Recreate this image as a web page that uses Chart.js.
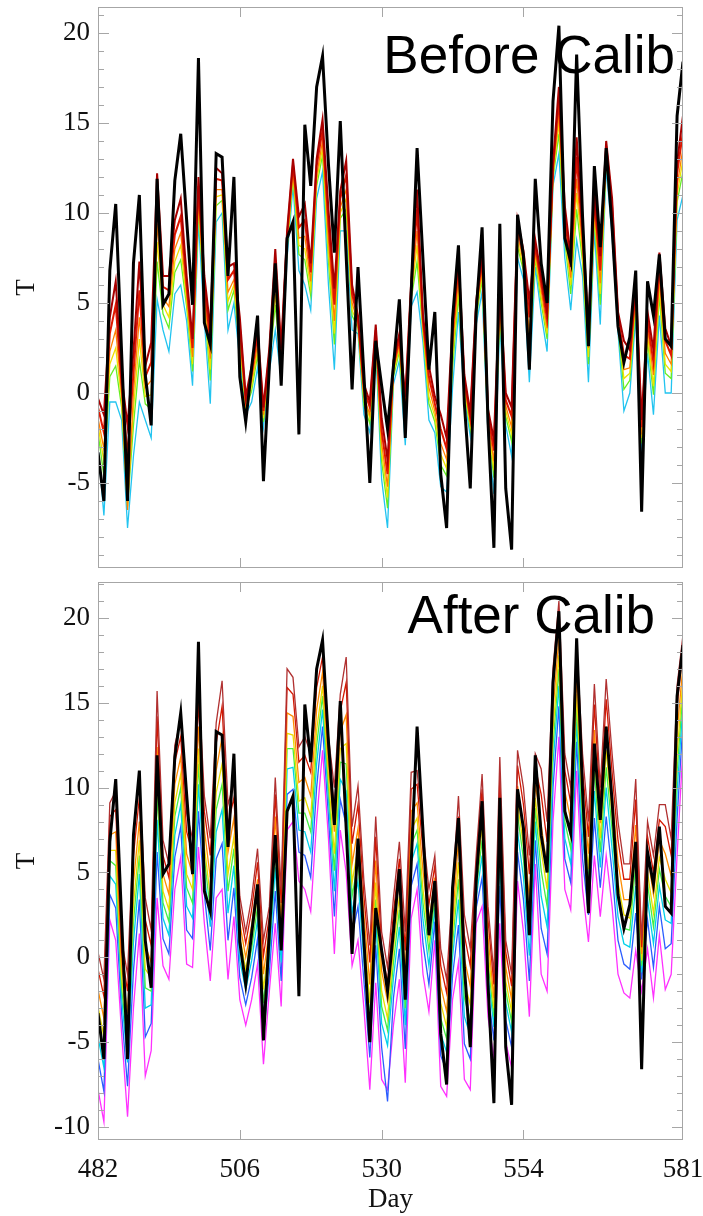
<!DOCTYPE html>
<html>
<head>
<meta charset="utf-8">
<title>Before / After Calib</title>
<script src="https://cdn.jsdelivr.net/npm/chart.js@4.4.1/dist/chart.umd.min.js"></script>
<style>
  html, body { margin: 0; padding: 0; background: #fff; }
  #wrap { position: relative; width: 703px; height: 1216px; overflow: hidden; }
  canvas { position: absolute; left: 0; }
  #c1 { top: 0; }
  #c2 { top: 575px; }
  .tag { position: absolute; font-family: "Liberation Sans", Arial, sans-serif; font-size: 53px; line-height: 53px; color: #000; white-space: nowrap; z-index: 2; }
  #tag1 { right: 28px; top: 28px; }
  #tag2 { right: 48px; top: 588px; }
</style>
</head>
<body>
<div id="wrap">
  <canvas id="c1" width="703" height="575"></canvas>
  <canvas id="c2" width="703" height="641"></canvas>
  <div class="tag" id="tag1">Before Calib</div>
  <div class="tag" id="tag2">After Calib</div>
</div>
<script>
// days 482..581, one value per day
const days = Array.from({ length: 100 }, (_, i) => 482 + i);
const xTicks = [482, 506, 530, 554, 581];
const yTicksTop = [-5, 0, 5, 10, 15, 20];
const yTicksBottom = [-10, -5, 0, 5, 10, 15, 20];

// observed temperature (thick black, same in both panels)
const obs = [-3.3,-6.0,6.8,10.5,2.2,-6.0,7.2,11.0,1.0,-1.8,
  11.9,4.9,5.5,11.8,14.4,9.6,4.9,18.6,3.9,2.7,
  13.3,13.1,6.5,12.0,0.9,-1.6,1.4,4.3,-4.9,1.5,
  7.2,0.4,8.6,9.5,-2.3,14.9,11.5,17.0,18.7,12.7,
  7.8,15.1,7.6,0.2,7.0,1.0,-5.0,2.9,0.4,-2.0,
  1.5,5.2,-2.5,5.5,13.6,7.4,1.3,4.5,-4.5,-7.5,
  4.1,8.2,-0.6,-5.3,4.5,9.2,-1.6,-8.6,9.4,-5.3,
  -8.7,9.9,7.6,1.3,11.9,7.2,5.0,16.2,20.4,8.6,
  7.3,18.8,9.8,2.6,12.6,8.1,13.6,9.2,3.7,1.7,
  3.1,6.8,-6.6,6.2,4.3,7.7,3.0,2.6,15.4,18.4];

// ensemble before calibration
const topDarkRed = [-0.3,-1.2,4.2,6.2,0.9,-1.8,2.3,7.3,1.5,2.8,
  12.2,6.5,6.5,9.6,10.8,6.5,3.0,12.0,6.5,3.6,
  12.5,12.2,7.0,7.2,4.2,-0.2,1.5,3.6,-0.8,2.5,
  8.0,2.5,9.0,13.0,9.8,10.5,7.2,13.0,15.2,10.2,
  5.8,11.2,12.9,6.0,4.3,0.5,-0.5,3.8,-1.4,-3.7,
  1.8,3.3,-0.2,6.2,11.3,4.3,1.5,-0.2,-1.2,-2.5,
  4.0,7.6,1.0,-1.1,5.1,7.8,-0.9,-2.6,6.0,0.0,
  -0.8,9.6,7.9,5.1,8.5,6.5,4.5,12.8,17.0,10.4,
  7.6,14.2,9.2,3.8,11.2,7.6,14.0,10.8,4.5,2.9,
  2.4,6.2,-1.5,4.5,2.4,7.8,3.6,2.6,12.8,15.4];
const topRed = [-0.8,-2.2,3.3,4.9,0.4,-3.5,1.1,5.7,0.9,1.7,
  10.8,5.9,5.7,8.8,9.8,6.0,2.5,11.5,6.0,2.8,
  11.9,11.8,6.3,6.8,3.7,-0.4,1.1,3.2,-1.0,2.2,
  7.1,2.2,8.7,12.7,9.2,9.6,6.7,12.6,14.6,9.4,
  4.9,10.8,12.1,5.5,4.1,0.2,-0.8,3.5,-2.1,-4.5,
  1.5,3.0,-0.7,5.9,10.2,4.0,0.9,-0.6,-2.0,-3.1,
  3.3,7.0,0.7,-1.4,4.8,7.4,-1.2,-3.2,5.6,-0.4,
  -1.3,9.2,7.6,4.2,8.2,6.1,4.1,12.5,16.3,9.8,
  7.0,13.1,8.7,3.2,10.8,6.8,13.7,10.4,4.3,2.1,
  1.9,5.8,-1.9,4.0,1.7,7.1,2.9,2.1,12.2,14.5];
const topOrange = [-1.4,-3.1,2.3,3.5,0.0,-6.5,0.0,4.2,0.3,0.7,
  9.4,5.3,4.8,8.0,8.9,5.5,2.0,11.0,5.5,1.9,
  11.3,11.3,5.6,6.3,3.2,-0.6,0.7,2.7,-1.2,2.0,
  6.2,1.8,8.4,12.4,8.6,8.7,6.2,12.1,14.0,8.5,
  4.0,10.3,11.3,5.0,3.9,-0.2,-1.2,3.3,-2.8,-5.2,
  1.3,2.7,-1.3,5.6,9.0,3.7,0.3,-1.0,-2.8,-3.7,
  2.5,6.4,0.5,-1.6,4.6,6.9,-1.5,-3.8,5.1,-0.7,
  -1.9,8.8,7.3,3.3,7.9,5.7,3.6,12.3,15.5,9.2,
  6.4,11.9,8.1,2.5,10.3,6.1,13.4,10.0,4.1,1.3,
  1.4,5.4,-2.3,3.6,1.0,6.4,2.2,1.6,11.5,13.6];
const topYellow = [-1.8,-3.8,1.6,2.5,-0.4,-6.0,-0.9,3.0,-0.2,-0.1,
  8.4,4.9,4.2,7.3,8.2,5.1,1.6,10.6,5.1,1.3,
  10.9,11.0,5.1,6.0,2.9,-0.8,0.4,2.4,-1.4,1.8,
  5.5,1.6,8.2,12.2,8.2,8.0,5.8,11.8,13.6,7.9,
  3.3,10.0,10.8,4.6,3.8,-0.4,-1.4,3.1,-3.3,-5.8,
  1.1,2.5,-1.7,5.4,8.2,3.5,-0.2,-1.3,-3.4,-4.2,
  2.0,5.9,0.3,-1.8,4.4,6.6,-1.7,-4.3,4.8,-1.0,
  -2.3,8.4,7.0,2.6,7.7,5.3,3.3,12.1,15.0,8.8,
  6.0,11.1,7.7,2.0,10.0,5.5,13.2,9.6,3.9,0.8,
  1.1,5.1,-2.5,3.2,0.4,5.9,1.6,1.2,11.0,13.0];
const topGreen = [-2.2,-4.6,0.9,1.5,-0.8,-6.3,-1.8,1.8,-0.6,-0.9,
  7.3,4.4,3.6,6.7,7.4,4.8,1.2,10.3,4.8,0.7,
  10.4,10.7,4.6,5.7,2.5,-0.9,0.1,2.1,-1.6,1.6,
  4.9,1.3,8.0,12.0,7.7,7.4,5.4,11.5,13.2,7.3,
  2.7,9.7,10.2,4.3,3.6,-0.7,-1.7,2.9,-3.8,-6.4,
  0.9,2.3,-2.1,5.2,7.3,3.3,-0.6,-1.6,-4.0,-4.6,
  1.4,5.4,0.1,-2.0,4.2,6.3,-1.9,-4.7,4.5,-1.3,
  -2.7,8.1,6.8,2.0,7.5,5.0,3.0,11.9,14.4,8.4,
  5.5,10.2,7.3,1.6,9.7,4.9,13.0,9.3,3.7,0.2,
  0.7,4.8,-2.8,2.9,-0.1,5.4,1.1,0.8,10.6,12.3];
const topCyan = [-3.0,-6.8,-0.5,-0.5,-1.5,-7.5,-3.5,-0.5,-1.5,-2.5,
  5.2,3.5,2.3,5.5,6.0,4.0,0.4,9.5,4.0,-0.6,
  9.5,10.0,3.5,5.0,1.8,-1.2,-0.5,1.4,-1.9,1.2,
  3.5,0.8,7.5,11.5,6.8,6.0,4.6,10.8,12.3,6.0,
  1.3,9.0,9.0,3.5,3.3,-1.2,-2.2,2.5,-4.8,-7.5,
  0.5,1.8,-2.9,4.8,5.6,2.8,-1.5,-2.2,-5.2,-5.5,
  0.3,4.5,-0.3,-2.4,3.8,5.6,-2.3,-5.6,3.8,-1.8,
  -3.5,7.5,6.3,0.6,7.0,4.4,2.3,11.5,13.3,7.5,
  4.6,8.5,6.5,0.6,9.0,3.8,12.5,8.7,3.4,-1.0,
  0.0,4.2,-3.4,2.2,-1.2,4.3,0.0,0.0,9.6,11.0];

// ensemble after calibration
const botDarkRed = [0.3,-1.3,9.1,9.8,1.0,-1.0,7.2,10.5,3.5,1.6,
  15.7,6.9,5.5,12.5,14.0,8.5,7.0,16.2,9.5,7.0,
  13.8,16.3,9.0,10.3,3.6,1.5,3.5,6.4,1.0,3.0,
  10.6,4.0,17.0,16.5,12.4,13.0,12.0,17.0,18.5,13.0,
  10.0,15.5,17.7,7.7,10.1,4.5,0.7,8.3,1.5,-0.6,
  3.5,6.8,1.5,10.9,11.0,7.3,4.0,6.0,0.5,-1.3,
  4.0,9.5,2.5,0.5,6.0,10.8,3.0,-1.0,11.8,1.0,
  -1.0,12.2,10.0,6.0,12.0,11.1,8.0,17.0,21.0,12.0,
  10.0,18.5,12.0,8.0,16.1,10.0,16.4,12.0,8.0,5.5,
  5.5,10.5,1.0,8.0,6.0,9.0,9.0,7.0,16.0,19.0];
const botRed = [-0.7,-2.3,8.3,8.7,0.3,-2.0,6.0,9.4,2.2,0.7,
  14.2,6.0,4.7,11.5,13.0,7.4,6.1,15.0,8.6,6.0,
  12.6,14.8,7.8,9.4,2.9,0.8,2.8,5.6,0.1,2.4,
  9.6,3.2,15.9,15.5,11.5,11.9,10.9,15.9,17.7,12.3,
  8.8,14.5,16.2,6.7,9.0,3.6,-0.3,7.1,0.5,-1.5,
  2.6,5.8,0.4,9.9,10.2,6.3,3.1,5.4,-0.5,-2.1,
  3.2,8.3,1.3,-0.5,5.5,9.9,2.2,-1.6,10.6,0.3,
  -1.7,11.3,9.0,4.9,11.2,9.6,6.8,15.9,20.0,11.0,
  9.1,17.6,11.0,7.1,14.9,9.1,15.2,10.9,6.9,4.6,
  4.6,9.3,0.6,7.1,5.0,8.1,7.7,6.0,14.8,18.2];
const botOrange = [-1.9,-3.6,7.2,7.4,-0.5,-3.3,4.4,8.0,0.7,-0.3,
  12.4,4.9,3.7,10.2,11.8,6.1,4.9,13.6,7.5,4.7,
  11.0,13.0,6.2,8.2,2.0,0.0,1.9,4.6,-1.0,1.7,
  8.3,2.1,14.4,14.2,10.3,10.6,9.5,14.6,16.8,11.4,
  7.4,13.3,14.3,5.5,7.6,2.5,-1.6,5.7,-0.8,-2.6,
  1.5,4.6,-0.9,8.6,9.1,5.1,2.1,4.7,-1.7,-3.2,
  2.2,6.9,-0.1,-1.7,4.9,8.7,1.2,-2.4,9.2,-0.6,
  -2.5,10.1,7.7,3.4,10.2,7.8,5.3,14.6,18.8,9.8,
  8.1,16.5,9.8,6.1,13.4,7.9,13.6,9.6,5.6,3.4,
  3.4,7.8,0.2,6.0,3.7,6.9,6.1,4.8,13.3,17.2];
const botYellow = [-2.9,-4.7,6.3,6.3,-1.2,-4.4,3.1,6.9,-0.7,-1.2,
  10.8,3.9,2.8,9.1,10.8,4.9,4.0,12.3,6.5,3.6,
  9.7,11.4,4.9,7.1,1.2,-0.7,1.1,3.7,-1.9,1.0,
  7.2,1.2,13.2,13.1,9.2,9.4,8.3,13.4,16.0,10.6,
  6.1,12.3,12.6,4.4,6.5,1.5,-2.7,4.4,-2.0,-3.6,
  0.5,3.6,-2.1,7.5,8.2,4.0,1.1,4.0,-2.7,-4.1,
  1.4,5.6,-1.4,-2.8,4.4,7.7,0.4,-3.0,7.9,-1.4,
  -3.2,9.1,6.6,2.2,9.4,6.3,4.0,13.4,17.8,8.8,
  7.1,15.5,8.8,5.2,12.1,7.0,12.2,8.4,4.4,2.5,
  2.3,6.5,-0.2,5.0,2.6,5.9,4.6,3.8,12.0,16.4];
const botGreen = [-3.8,-5.5,5.7,5.4,-1.8,-5.2,2.1,6.0,-1.8,-2.0,
  9.6,3.2,2.1,8.3,10.0,4.1,3.2,11.4,5.8,2.8,
  8.7,10.2,3.9,6.4,0.6,-1.3,0.5,3.0,-2.7,0.5,
  6.3,0.6,12.3,12.3,8.5,8.5,7.4,12.5,15.4,10.0,
  5.1,11.5,11.4,3.6,5.6,0.8,-3.6,3.4,-2.9,-4.3,
  -0.3,2.8,-3.0,6.6,7.5,3.2,0.4,3.5,-3.6,-4.8,
  0.8,4.6,-2.4,-3.7,4.0,6.9,-0.3,-3.5,6.9,-2.0,
  -3.8,8.4,5.8,1.3,8.8,5.1,3.0,12.5,17.0,8.0,
  6.4,14.8,8.0,4.5,11.1,6.2,11.2,7.5,3.5,1.7,
  1.6,5.5,-0.5,4.3,1.8,5.2,3.6,3.0,11.0,15.7];
const botCyan = [-4.7,-6.5,4.8,4.3,-2.4,-6.2,0.9,4.9,-3.0,-2.8,
  8.1,2.3,1.3,7.2,9.0,3.0,2.3,10.2,4.9,1.8,
  7.4,8.7,2.6,5.4,-0.2,-1.9,-0.2,2.2,-3.5,-0.1,
  5.3,-0.3,11.1,11.2,7.5,7.4,6.2,11.4,14.6,9.3,
  3.9,10.5,9.8,2.6,4.5,-0.2,-4.6,2.2,-3.9,-5.2,
  -1.2,1.8,-4.0,5.6,6.7,2.2,-0.5,2.9,-4.5,-5.6,
  0.0,3.4,-3.5,-4.6,3.5,6.0,-1.0,-4.1,5.7,-2.7,
  -4.4,7.4,4.7,0.1,8.0,3.6,1.8,11.4,16.0,7.0,
  5.5,13.9,7.0,3.6,9.8,5.3,10.0,6.4,2.4,0.8,
  0.6,4.2,-0.9,3.4,0.8,4.2,2.2,2.0,9.8,14.9];
const botBlue = [-6.0,-7.9,3.7,2.9,-3.3,-7.6,-0.8,3.4,-4.7,-3.9,
  6.2,1.1,0.2,5.9,7.7,1.6,1.1,8.6,3.7,0.4,
  5.8,6.7,1.0,4.1,-1.2,-2.8,-1.2,1.1,-4.7,-0.9,
  3.9,-1.4,9.6,9.9,6.2,6.0,4.7,10.0,13.6,8.3,
  2.4,9.3,7.8,1.3,3.0,-1.4,-5.9,0.7,-5.3,-8.5,
  -2.4,0.5,-5.4,4.2,5.5,0.8,-1.6,2.1,-5.8,-6.7,
  -1.1,1.9,-5.1,-6.0,2.9,4.7,-2.1,-4.9,4.2,-3.7,
  -5.3,6.2,3.4,-1.4,6.9,1.7,0.2,10.0,14.8,5.8,
  4.4,12.7,5.8,2.5,8.2,4.1,8.3,5.0,1.0,-0.4,
  -0.7,2.6,-1.3,2.2,-0.6,3.0,0.5,0.8,8.2,13.9];
const botMagenta = [-7.8,-9.7,2.2,1.0,-4.5,-9.4,-3.0,1.4,-7.0,-5.5,
  3.5,-0.5,-1.3,4.0,5.9,-0.4,-0.6,6.5,2.0,-1.4,
  3.5,4.0,-1.3,2.4,-2.5,-4.0,-2.5,-0.4,-6.3,-2.0,
  2.0,-2.9,7.5,8.0,4.5,4.0,2.7,8.0,12.2,7.0,
  0.2,7.5,5.0,-0.5,1.0,-3.0,-7.8,-1.5,-7.2,-7.8,
  -4.0,-1.3,-7.4,2.3,4.0,-1.0,-3.2,1.0,-7.6,-8.2,
  -2.5,-0.3,-7.2,-7.8,2.0,3.0,-3.5,-6.0,2.0,-5.0,
  -6.5,4.5,1.5,-3.5,5.5,-1.0,-2.0,8.0,13.0,4.0,
  2.8,11.0,4.0,0.9,6.0,2.4,6.0,3.0,-1.0,-2.1,
  -2.4,0.4,-2.0,0.5,-2.4,1.3,-1.9,-1.0,6.0,12.4];

const serif = { family: '"Liberation Serif", "Times New Roman", serif', size: 27 };
const inkColor = "#111";
const frameColor = "#a6a6a6";

// frame + inward tick marks (minor every 1, major every 5)
const frameTicks = {
  id: "frameTicks",
  afterDraw(chart) {
    const { ctx, chartArea: a, scales } = chart;
    const x = scales.x, y = scales.y;
    ctx.save();
    ctx.strokeStyle = frameColor;
    ctx.lineWidth = 1;
    ctx.strokeRect(a.left + 0.5, a.top + 0.5, a.right - a.left - 1, a.bottom - a.top - 1);
    ctx.beginPath();
    for (let v = Math.ceil(y.min); v <= Math.floor(y.max); v++) {
      const py = Math.round(y.getPixelForValue(v)) + 0.5;
      const len = v % 5 === 0 ? 11 : 6;
      ctx.moveTo(a.left, py);
      ctx.lineTo(a.left + len, py);
      ctx.moveTo(a.right, py);
      ctx.lineTo(a.right - len, py);
    }
    xTicks.slice(1, -1).forEach((v) => {
      const px = Math.round(x.getPixelForValue(v)) + 0.5;
      ctx.moveTo(px, a.top);
      ctx.lineTo(px, a.top + 10);
      ctx.moveTo(px, a.bottom);
      ctx.lineTo(px, a.bottom - 10);
    });
    ctx.stroke();
    ctx.restore();
  },
};

const line = (data, color, width) => ({
  data: data.map((v, i) => ({ x: days[i], y: v })),
  borderColor: color,
  borderWidth: width,
  pointRadius: 0,
  tension: 0,
  fill: false,
});

// keep the plot box where it is in the picture: no label overhang padding
const noPad = (s) => {
  s.paddingTop = 0;
  s.paddingBottom = 0;
  s.paddingLeft = 0;
  s.paddingRight = 0;
};

function makeChart(id, datasets, yMin, yMax, yTicks, showX) {
  return new Chart(document.getElementById(id), {
    type: "line",
    data: { datasets },
    options: {
      responsive: false,
      animation: false,
      events: [],
      layout: { padding: { left: 0, right: 20, top: 7, bottom: showX ? 0 : 7 } },
      plugins: { legend: { display: false }, tooltip: { enabled: false } },
      scales: {
        x: {
          type: "linear",
          min: 482,
          max: 581,
          display: showX,
          afterBuildTicks: (s) => { s.ticks = xTicks.map((v) => ({ value: v })); },
          afterFit: (s) => {
            noPad(s);
            s.height = showX ? 76 : 0;
          },
          grid: { display: false, drawTicks: false },
          border: { display: false },
          ticks: { font: serif, color: inkColor, padding: 14, maxRotation: 0, autoSkip: false },
          title: { display: true, text: "Day", font: serif, color: inkColor, padding: { top: 0, bottom: 0 } },
        },
        y: {
          min: yMin,
          max: yMax,
          afterBuildTicks: (s) => { s.ticks = yTicks.map((v) => ({ value: v })); },
          afterFit: (s) => {
            noPad(s);
            s.width = 98;
          },
          grid: { display: false, drawTicks: false },
          border: { display: false },
          ticks: { font: serif, color: inkColor, padding: 8 },
          title: { display: true, text: "T", font: serif, color: inkColor, padding: { top: 11, bottom: 0 } },
        },
      },
    },
    plugins: [frameTicks],
  });
}

makeChart("c1", [
  line(obs, "#000000", 3),
  line(topDarkRed, "#a80000", 2),
  line(topRed, "#e01800", 2),
  line(topOrange, "#ff8000", 1.3),
  line(topYellow, "#efe000", 1.3),
  line(topGreen, "#66ee22", 1.3),
  line(topCyan, "#22c4f0", 1.3),
], -9.72, 21.44, yTicksTop, false);

makeChart("c2", [
  line(obs, "#000000", 3),
  line(botDarkRed, "#b03030", 1.3),
  line(botRed, "#d41800", 1.3),
  line(botOrange, "#ff8c00", 1.3),
  line(botYellow, "#e8dc00", 1.3),
  line(botGreen, "#44ee44", 1.3),
  line(botCyan, "#00d0ea", 1.3),
  line(botBlue, "#2a5cff", 1.3),
  line(botMagenta, "#ff30ff", 1.3),
], -10.77, 22.12, yTicksBottom, true);
</script>
</body>
</html>
